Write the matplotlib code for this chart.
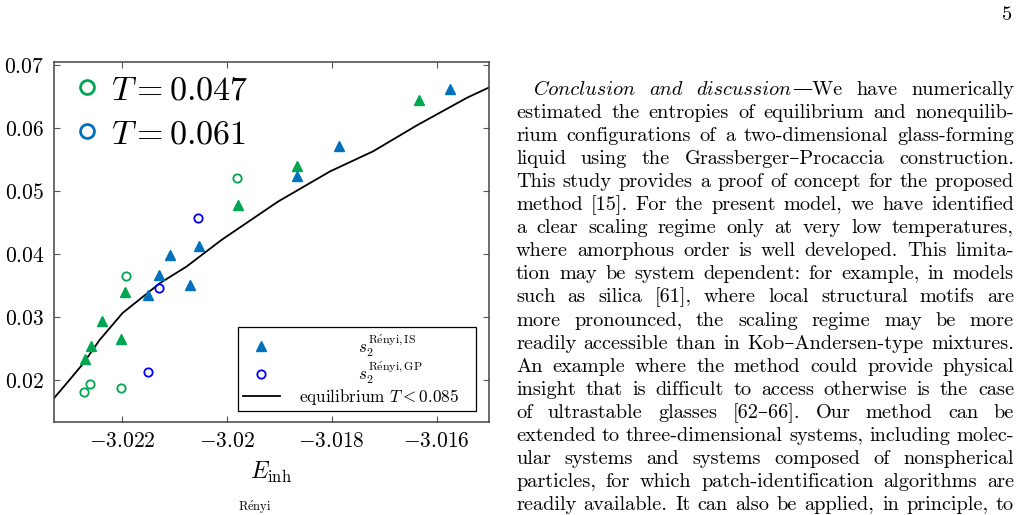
import matplotlib
matplotlib.use("Agg")
import matplotlib.pyplot as plt
import matplotlib.ticker as ticker
from matplotlib.lines import Line2D
from matplotlib.transforms import IdentityTransform

plt.rcParams['font.family'] = ['cmr10', 'DejaVu Serif']
plt.rcParams['mathtext.fontset'] = 'cm'
plt.rcParams['axes.formatter.use_mathtext'] = True

# equilibrium curve, T < 0.085
eq_E = [-3.02332, -3.02306, -3.02274, -3.02243, -3.02199, -3.02160, -3.02128,
        -3.02077, -3.02010, -3.01902, -3.01803, -3.01721, -3.01638, -3.01542, -3.01501]
eq_s = [0.01698, 0.01952, 0.0227, 0.02641, 0.0307, 0.03329, 0.03542,
        0.03806, 0.0423, 0.04839, 0.05316, 0.05634, 0.06043, 0.06483, 0.06642]

# T = 0.047
is047_E = [-3.02238, -3.02260, -3.02271, -3.02194, -3.02203, -3.01979, -3.01866, -3.01634]
is047_s = [0.02948, 0.02545, 0.02339, 0.03409, 0.02657, 0.04776, 0.05402, 0.06445]
gp047_E = [-3.02193, -3.02261, -3.02272, -3.02203, -3.01980]
gp047_s = [0.03658, 0.01941, 0.01819, 0.01878, 0.05216]

# T = 0.061
is061_E = [-3.02150, -3.02130, -3.02108, -3.02071, -3.02054, -3.01866, -3.01787, -3.01575]
is061_s = [0.03351, 0.03679, 0.03981, 0.03515, 0.04130, 0.05237, 0.05714, 0.06615]
gp061_E = [-3.02130, -3.02150, -3.02055]
gp061_s = [0.03463, 0.02132, 0.04575]

x_ticks = [-3.022, -3.020, -3.018, -3.016]
y_ticks = [0.02, 0.03, 0.04, 0.05, 0.06, 0.07]

green = '#00a651'
blue = '#0072bd'
pure_blue = '#0000ff'

W, H = 1021, 515
fig = plt.figure(figsize=(W / 100, H / 100), dpi=100)
ax = fig.add_axes([54 / W, 1 - 422 / H, 435 / W, 360 / H])

ax.plot(eq_E, eq_s, color='black', lw=1.3, label=r'equilibrium $T<0.085$', zorder=2)
ax.plot(is047_E, is047_s, ls='none', marker='^', ms=6.5, color=green, mec=green, zorder=3)
ax.plot(is061_E, is061_s, ls='none', marker='^', ms=6.5, color=blue, mec=blue, zorder=3,
        label=r'$\qquad\qquad s_2^{\mathrm{R\acute{e}nyi,IS}}$')
ax.plot(gp047_E, gp047_s, ls='none', marker='o', ms=6, mfc='none', mec=green, mew=1.3, zorder=3)
ax.plot(gp061_E, gp061_s, ls='none', marker='o', ms=6, mfc='none', mec=pure_blue, mew=1.3, zorder=3,
        label=r'$\qquad\qquad s_2^{\mathrm{R\acute{e}nyi,GP}}$')

ax.set_xlim(-3.0233, -3.0150)
ax.set_ylim(0.0134, 0.0705)
ax.xaxis.set_major_locator(ticker.FixedLocator(x_ticks))
ax.yaxis.set_major_locator(ticker.FixedLocator(y_ticks))
ax.xaxis.set_major_formatter(ticker.FuncFormatter(lambda v, p: f'${v:g}$'))
ax.yaxis.set_major_formatter(ticker.FuncFormatter(lambda v, p: f'${v:g}$'))
ax.tick_params(direction='in', top=True, right=True, length=4, width=0.8,
               color='#555555', labelsize=15.5, pad=7)
for sp in ax.spines.values():
    sp.set_color('#444444')
    sp.set_linewidth(1.1)
ax.set_xlabel(r'$E_{\mathrm{inh}}$', fontsize=17, labelpad=6)

# lower right legend
h, l = ax.get_legend_handles_labels()
order = [1, 2, 0]
leg1 = ax.legend([h[i] for i in order], [l[i] for i in order],
                 loc='lower left', bbox_to_anchor=(0.4237, 0.0297, 0.5457, 0.22),
                 mode='expand', fontsize=12.3, frameon=True, fancybox=False,
                 edgecolor='black', framealpha=1, handlelength=2.2, handletextpad=1.1,
                 labelspacing=0.05, borderpad=0.25, borderaxespad=0)
leg1.get_frame().set_linewidth(0.9)
ax.add_artist(leg1)

# temperature legend
t_handles = [Line2D([], [], ls='none', marker='o', ms=10, mfc='none', mec=green, mew=2),
             Line2D([], [], ls='none', marker='o', ms=10, mfc='none', mec=blue, mew=2)]
ax.legend(t_handles, [r'$T{=}0.047$', r'$T{=}0.061$'], loc='upper left',
          bbox_to_anchor=(0.01, 1.01), frameon=False, fontsize=24.5,
          handlelength=0.7, handletextpad=0.35, labelspacing=0.42, borderaxespad=0.1)

# cut-off caption below the figure
fig.text(238, 4, r'$\mathrm{R\acute{e}nyi}$', fontsize=9, va='baseline',
         transform=IdentityTransform())

# page number
fig.text(1012, H - 20, '5', fontsize=14.6, ha='right', va='baseline', transform=IdentityTransform())

# paragraph text, justified
RM = ['cmr10', 'DejaVu Serif']
IT = ['cmmi10', 'DejaVu Serif']
lines = [
    "Conclusion and discussion—We have numerically",
    "estimated the entropies of equilibrium and nonequilib-",
    "rium configurations of a two-dimensional glass-forming",
    "liquid using the Grassberger–Procaccia construction.",
    "This study provides a proof of concept for the proposed",
    "method [15]. For the present model, we have identified",
    "a clear scaling regime only at very low temperatures,",
    "where amorphous order is well developed. This limita-",
    "tion may be system dependent: for example, in models",
    "such as silica [61], where local structural motifs are",
    "more pronounced, the scaling regime may be more",
    "readily accessible than in Kob–Andersen-type mixtures.",
    "An example where the method could provide physical",
    "insight that is difficult to access otherwise is the case",
    "of ultrastable glasses [62–66]. Our method can be",
    "extended to three-dimensional systems, including molec-",
    "ular systems and systems composed of nonspherical",
    "particles, for which patch-identification algorithms are",
    "readily available. It can also be applied, in principle, to",
]
italic_words = {"Conclusion", "and", "discussion"}

renderer = fig.canvas.get_renderer()
body_size = 14.6
x_left, x_right = 516, 1014
base0, step = 95, 23.05


def segments(word, first_line):
    if first_line and word.startswith("discussion"):
        return [("discussion", IT), (word[len("discussion"):], RM)]
    if first_line and word in italic_words:
        return [(word, IT)]
    return [(word, RM)]


def seg_width(txt, fam):
    t = fig.text(0, 0, txt, fontsize=body_size, family=fam, transform=IdentityTransform())
    w = t.get_window_extent(renderer).width
    t.remove()
    return w


for i, line in enumerate(lines):
    words = [segments(w, i == 0) for w in line.split()]
    x0 = x_left + (18 if i == 0 else 0)
    widths = [[seg_width(t, f) for t, f in w] for w in words]
    total = sum(sum(ws) for ws in widths)
    gap = (x_right - x0 - total) / (len(words) - 1)
    y = H - (base0 + i * step)
    x = x0
    for w, ws in zip(words, widths):
        for (t, f), sw in zip(w, ws):
            fig.text(x, y, t, fontsize=body_size, family=f, va='baseline',
                     transform=IdentityTransform())
            x += sw
        x += gap

fig.savefig('out.png', dpi=100)
